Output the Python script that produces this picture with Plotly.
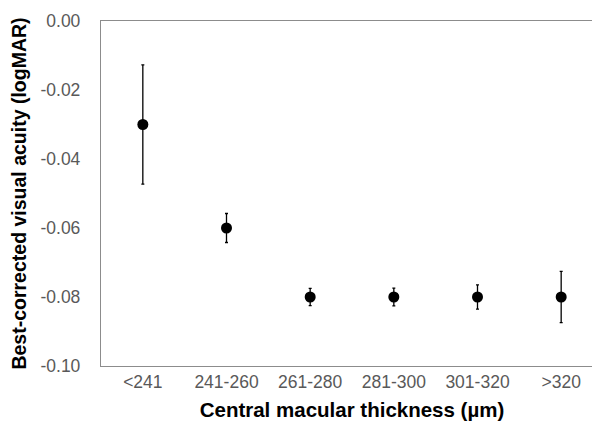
import plotly.graph_objects as go

categories = ["<241", "241-260", "261-280", "281-300", "301-320", ">320"]
means = [-0.030, -0.060, -0.080, -0.080, -0.080, -0.080]
err_plus = [0.0173, 0.0042, 0.0025, 0.0026, 0.0035, 0.0074]
err_minus = [0.0173, 0.0042, 0.0025, 0.0026, 0.0035, 0.0074]
y_ticks = [0.00, -0.02, -0.04, -0.06, -0.08, -0.10]

fig = go.Figure(go.Scatter(
    x=categories, y=means, mode="markers",
    marker=dict(color="black", size=11),
    error_y=dict(type="data", array=err_plus, arrayminus=err_minus,
                 color="black", thickness=1.3, width=1.5, symmetric=False),
    showlegend=False,
))

fig.update_layout(
    width=600, height=427,
    margin=dict(l=93, r=5, t=13, b=69, autoexpand=False),
    paper_bgcolor="white", plot_bgcolor="white",
    font=dict(family="Liberation Sans, Arial, sans-serif"),
    xaxis=dict(
        type="category", range=[-0.5, 5.5], automargin=False,
        showline=True, linecolor="#8c8c8c", linewidth=1.3, mirror=True,
        showgrid=False, ticks="", tickfont=dict(size=17.5, color="#595959"),
        ticklabelstandoff=0,
        title=dict(text="<b>Central macular thickness (µm)</b>",
                   font=dict(size=20.5, color="black"), standoff=11),
    ),
    yaxis=dict(
        range=[-0.10, 0.0], tickvals=y_ticks, automargin=False,
        ticktext=[f"{v:.2f}" for v in y_ticks],
        showline=True, linecolor="#8c8c8c", linewidth=1.3, mirror=True,
        showgrid=False, zeroline=False, ticks="",
        tickfont=dict(size=17.5, color="#595959"),
        ticklabelstandoff=16,
        title=dict(text="<b>Best-corrected visual acuity (logMAR)</b>",
                   font=dict(size=19.5, color="black"), standoff=10),
    ),
)

fig.write_html("out.html")
